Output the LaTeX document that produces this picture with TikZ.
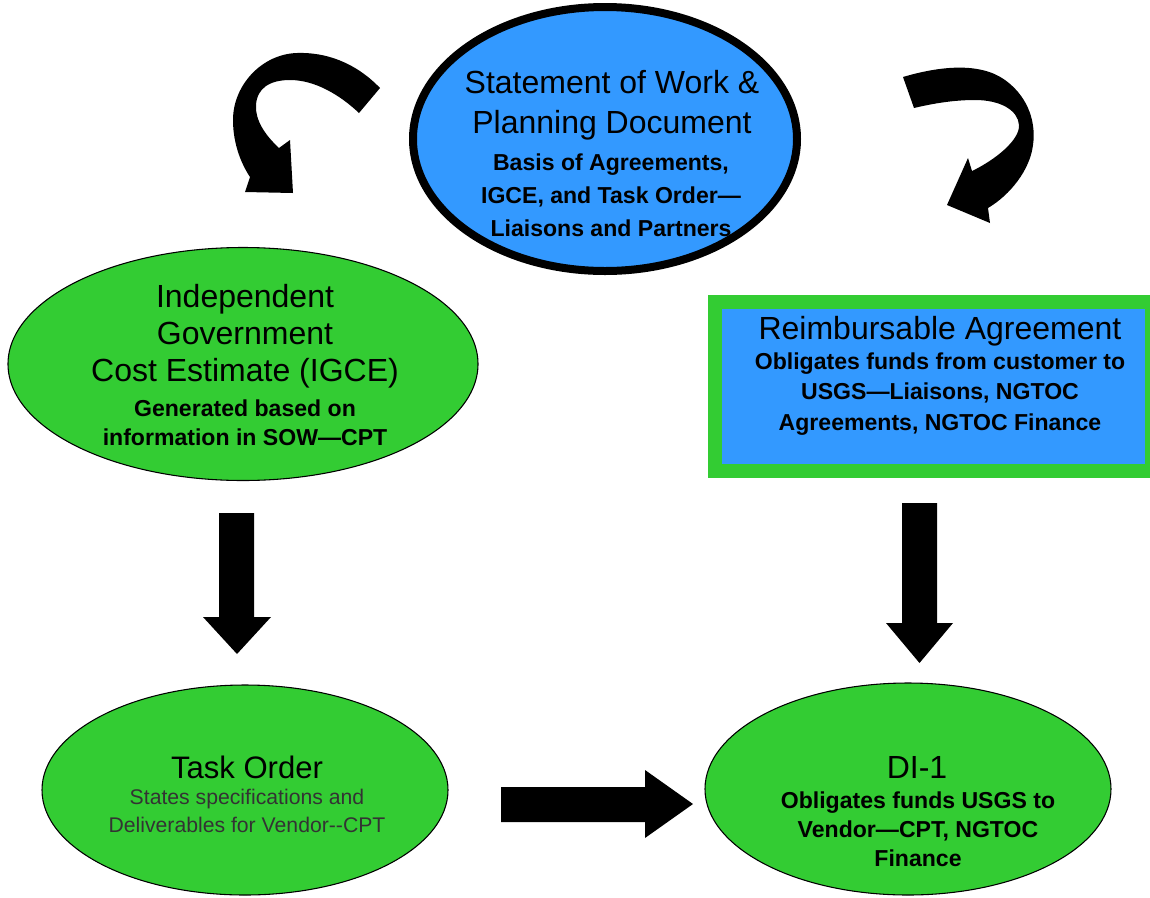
\documentclass[tikz,border=0pt]{standalone}
\usepackage{fontspec}
\setmainfont{Liberation Sans}
\usetikzlibrary{shapes.geometric}
\definecolor{sowblue}{HTML}{3399FF}
\definecolor{leafgreen}{HTML}{33CC33}
\def\PX{0.75pt}
\begin{document}
\begin{tikzpicture}[x=0.75pt,y=-0.75pt,
  greenoval/.style={ellipse, draw=black, fill=leafgreen, line width=0.8pt, inner sep=0pt},
  txt/.style={align=center, inner sep=0pt, text=black},
  blockarrow/.style={fill=black, draw=none}
]
\path[use as bounding box, fill=white] (0,0) rectangle (1150,897);

% shapes
\node[ellipse, draw=black, line width=6pt, fill=sowblue, inner sep=0pt,
      minimum width=384*\PX, minimum height=264*\PX] (sow) at (605,139) {};
\node[greenoval, minimum width=470*\PX, minimum height=233*\PX] (igce) at (243,364) {};
\node[rectangle, draw=leafgreen, line width=10.5pt, fill=sowblue, inner sep=0pt,
      minimum width=437*\PX, minimum height=169*\PX] (ra) at (933.5,386) {};
\node[greenoval, minimum width=406*\PX, minimum height=210*\PX] (task) at (245,790) {};
\node[greenoval, minimum width=406*\PX, minimum height=212*\PX] (di) at (908,789) {};

% texts
\node[txt, font=\fontsize{24}{30}\selectfont] (sowttl) at (612,105.5)
  {\strut Statement of Work \&\\\strut Planning Document};
\node[txt, font=\bfseries\fontsize{17.3}{24.4}\selectfont] (sowdsc) at (611,197)
  {\strut Basis of Agreements,\\\strut IGCE, and Task Order—\\\strut Liaisons and Partners};

\node[txt, font=\fontsize{24}{27.75}\selectfont] (igcettl) at (245,337.2)
  {\strut Independent\\\strut Government\\\strut Cost Estimate (IGCE)};
\node[txt, font=\bfseries\fontsize{17.3}{21.75}\selectfont] (igcedsc) at (245,425.1)
  {\strut Generated based on\\\strut information in SOW—CPT};

\node[txt, font=\fontsize{24}{27.75}\selectfont] (rattl) at (940,332.2)
  {\strut Reimbursable Agreement};
\node[txt, font=\bfseries\fontsize{17.3}{22.9}\selectfont] (radsc) at (940,393.8)
  {\strut Obligates funds from customer to\\\strut USGS—Liaisons, NGTOC\\\strut Agreements, NGTOC Finance};

\node[txt, font=\fontsize{23.3}{27.75}\selectfont] (taskttl) at (247,770.8)
  {\strut Task Order};
\node[txt, text=black!80, font=\fontsize{15.9}{21}\selectfont] (taskdsc) at (247,813)
  {\strut States specifications and\\\strut Deliverables for Vendor-\kern0pt-CPT};

\node[txt, font=\fontsize{24}{27.75}\selectfont] (dittl) at (917,770.8)
  {\strut DI-1};
\node[txt, font=\bfseries\fontsize{17.3}{21.75}\selectfont] (didsc) at (918,831.9)
  {\strut Obligates funds USGS to\\\strut Vendor—CPT, NGTOC\\\strut Finance};

% curved arrow, left (tapered band with head)
\fill[blockarrow] (380,88) .. controls (355,62) and (325,52) .. (297,53)
  .. controls (262,54) and (233,85) .. (233,120)
  .. controls (233,145) and (242,165) .. (250,177)
  -- (245,192) -- (293,193) -- (290,140) -- (279,148)
  .. controls (265,135) and (255,120) .. (256,105)
  .. controls (257,88) and (270,80) .. (290,80)
  .. controls (315,80) and (340,95) .. (359,113) -- cycle;

% curved arrow, right (tapered band with head)
\fill[blockarrow] (903,77) .. controls (940,66) and (980,62) .. (1005,80)
  .. controls (1030,98) and (1036,125) .. (1033,145)
  .. controls (1030,170) and (1010,195) .. (988,208)
  -- (990,223) -- (947,205) -- (968,158) -- (972,171)
  .. controls (995,160) and (1020,140) .. (1019,125)
  .. controls (1018,110) and (1000,100) .. (975,100)
  .. controls (955,100) and (935,103) .. (914,108) -- cycle;

% straight block arrows
\fill[blockarrow] (219,513) -- (254,513) -- (254,617) -- (271,617) -- (237,654)
  -- (203,617) -- (219,617) -- cycle;
\fill[blockarrow] (902,503) -- (937,503) -- (937,623) -- (953,623) -- (919.5,663)
  -- (886,623) -- (902,623) -- cycle;
\fill[blockarrow] (501,787) -- (645,787) -- (645,770) -- (693,804) -- (645,838)
  -- (645,822) -- (501,822) -- cycle;
\end{tikzpicture}
\end{document}
